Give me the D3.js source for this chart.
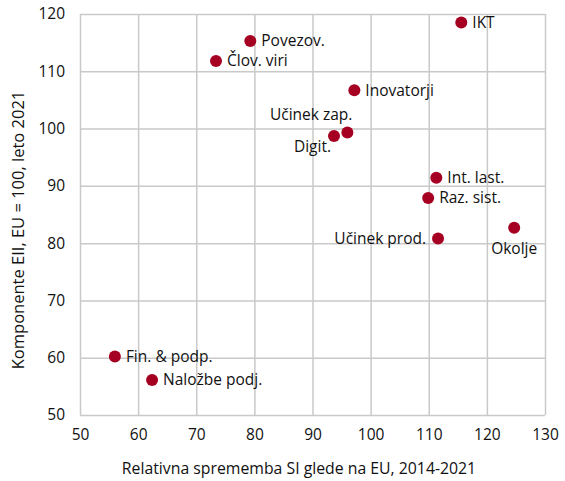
<!DOCTYPE html>
<html>
<head>
<meta charset="utf-8">
<script src="https://cdn.jsdelivr.net/npm/d3@7.9.0/dist/d3.min.js"></script>
<style>
  body { margin: 0; background: #fff; }
  svg { font-family: "Open Sans", sans-serif; }
</style>
</head>
<body>
<svg id="chart"></svg>
<script>
const width = 565;
const height = 481;

// Data
const labels = ["IKT", "Povezov.", "Člov. viri", "Inovatorji", "Učinek zap.", "Digit.",
  "Int. last.", "Raz. sist.", "Učinek prod.", "Okolje", "Fin. & podp.", "Naložbe podj."];
const xValues = [115.6, 79.3, 73.4, 97.2, 96.0, 93.7, 111.3, 109.9, 111.6, 124.7, 56.0, 62.4];
const yValues = [118.5, 115.3, 111.8, 106.7, 99.3, 98.7, 91.4, 87.9, 80.8, 82.7, 60.2, 56.1];
// where each label sits relative to its point
const labelSide = ["right", "right", "right", "right", "aboveLeft", "belowLeft",
  "right", "right", "left", "below", "right", "right"];
const xTicks = [50, 60, 70, 80, 90, 100, 110, 120, 130];
const yTicks = [50, 60, 70, 80, 90, 100, 110, 120];

const margin = {top: 14, right: 20, bottom: 66, left: 80};

const svg = d3.select("#chart").attr("width", width).attr("height", height);

const x = d3.scaleLinear().domain([50, 130]).range([margin.left, width - margin.right]);
const y = d3.scaleLinear().domain([50, 120]).range([height - margin.bottom, margin.top]);

const gridColor = "#c9c9c9";

// grid
svg.append("g")
  .attr("transform", `translate(0,${height - margin.bottom})`)
  .call(d3.axisBottom(x).tickValues(xTicks).tickSize(-(height - margin.top - margin.bottom)).tickFormat(""))
  .call(g => g.select(".domain").remove())
  .call(g => g.selectAll("line").attr("stroke", gridColor).attr("stroke-width", 1.5));

svg.append("g")
  .attr("transform", `translate(${margin.left},0)`)
  .call(d3.axisLeft(y).tickValues(yTicks).tickSize(-(width - margin.left - margin.right)).tickFormat(""))
  .call(g => g.select(".domain").remove())
  .call(g => g.selectAll("line").attr("stroke", gridColor).attr("stroke-width", 1.5));

// tick labels
svg.append("g")
  .attr("transform", `translate(0,${height - margin.bottom})`)
  .call(d3.axisBottom(x).tickValues(xTicks).tickSize(0).tickPadding(14))
  .call(g => g.select(".domain").remove())
  .call(g => g.selectAll("text").attr("font-size", 15.5).attr("fill", "#111").attr("font-family", "Open Sans"));

svg.append("g")
  .attr("transform", `translate(${margin.left},0)`)
  .call(d3.axisLeft(y).tickValues(yTicks).tickSize(0).tickPadding(15))
  .call(g => g.select(".domain").remove())
  .call(g => g.selectAll("text").attr("font-size", 15.5).attr("fill", "#111").attr("font-family", "Open Sans"));

// axis titles
svg.append("text")
  .attr("x", 299)
  .attr("y", 474)
  .attr("text-anchor", "middle")
  .attr("font-size", 15.8)
  .attr("fill", "#111")
  .text("Relativna sprememba SI glede na EU, 2014-2021");

svg.append("text")
  .attr("transform", "translate(24,230) rotate(-90)")
  .attr("text-anchor", "middle")
  .attr("font-size", 16.5)
  .attr("fill", "#111")
  .text("Komponente EII, EU = 100, leto 2021");

// points
const idx = d3.range(labels.length);
svg.append("g")
  .selectAll("circle")
  .data(idx)
  .join("circle")
  .attr("cx", i => x(xValues[i]))
  .attr("cy", i => y(yValues[i]))
  .attr("r", 6)
  .attr("fill", "#a50021");

const placement = {
  right: {dx: 11, dy: 0, anchor: "start"},
  left: {dx: -12, dy: 0, anchor: "end"},
  aboveLeft: {dx: 5, dy: -18, anchor: "end"},
  belowLeft: {dx: -3, dy: 11, anchor: "end"},
  below: {dx: 0, dy: 21, anchor: "middle"}
};

svg.append("g")
  .selectAll("text")
  .data(idx)
  .join("text")
  .attr("x", i => x(xValues[i]) + placement[labelSide[i]].dx)
  .attr("y", i => y(yValues[i]) + placement[labelSide[i]].dy)
  .attr("dy", "0.35em")
  .attr("text-anchor", i => placement[labelSide[i]].anchor)
  .attr("font-size", 15.5)
  .attr("fill", "#111")
  .text(i => labels[i]);
</script>
</body>
</html>
